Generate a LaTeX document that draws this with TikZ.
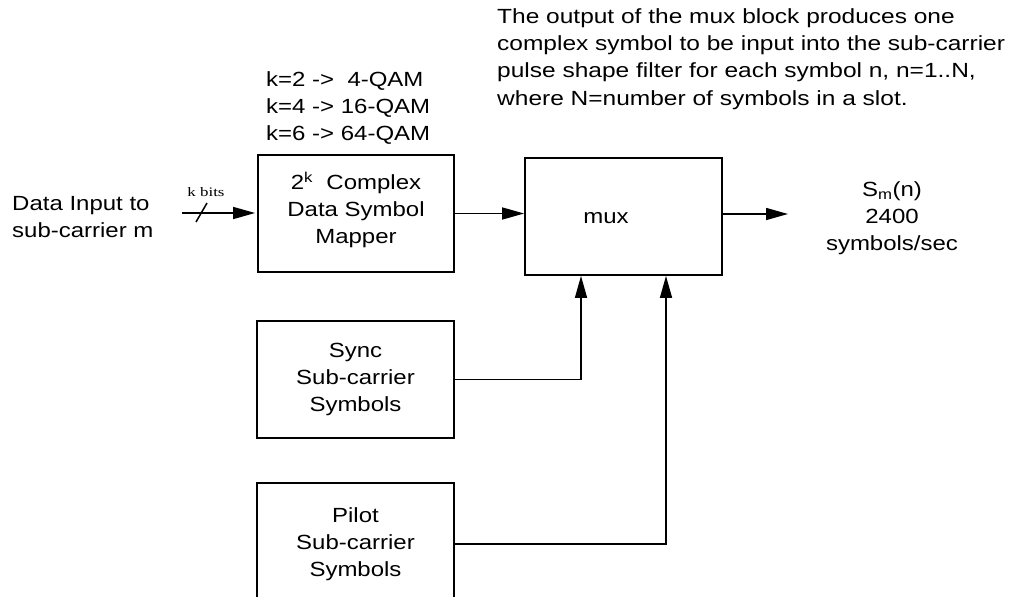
\documentclass[tikz,border=0pt]{standalone}
\usepackage{fontspec}
\setmainfont{Liberation Sans}[FakeStretch=1.17]
\newfontfamily\notefont{Liberation Sans}[FakeStretch=1.195]
\newfontfamily\kbfont{Liberation Serif}[FakeStretch=1.3]
\usetikzlibrary{arrows.meta}
\begin{document}
\begin{tikzpicture}[x=1pt,y=-1pt,
  box/.style={draw, line width=1.8pt, inner sep=0pt},
  conn/.style={line width=1.5pt},
  arr/.style={conn, -{Triangle[length=22pt,width=12pt]}},
  txt/.style={font=\fontsize{20.5}{26.8}\selectfont, inner sep=0pt}
]
\useasboundingbox (0,0) rectangle (1012,597);
\clip (0,0) rectangle (1012,597);

% blocks
\node[box, minimum width=196pt, minimum height=117pt] (map) at (356,213.5) {};
\node[txt, align=center] (maptxt) at (356,209.5) {2\textsuperscript{k}\ \ Complex\\Data Symbol\\Mapper};
\node[box, minimum width=197pt, minimum height=117pt] (mux) at (623.5,216.5) {};
\node[txt] (muxtxt) at (606,218) {mux};
\node[box, txt, align=center, minimum width=197pt, minimum height=117pt] (sync) at (355.5,379.5) {Sync\\Sub-carrier\\Symbols};
\node[box, txt, align=center, minimum width=197pt, minimum height=122pt] (pilot) at (355.5,544) {Pilot\\Sub-carrier\\Symbols};

% texts
\node[txt, font=\notefont\fontsize{20.5}{27.3}\selectfont, anchor=west, align=left] (note) at (497,59) {The output of the mux block produces one\\complex symbol to be input into the sub-carrier\\pulse shape filter for each symbol n, n=1..N,\\where N=number of symbols in a slot.};
\node[txt, anchor=west, align=left] (qam) at (266,108) {k=2 ->\ \ 4-QAM\\k=4 -> 16-QAM\\k=6 -> 64-QAM};
\node[txt, anchor=west, align=left] (inlbl) at (12,216.7) {Data Input to\\sub-carrier m};
\node[txt, align=center] (outlbl) at (892,218) {S\textsubscript{m}(n)\\2400\\symbols/sec};
\node[font=\kbfont\fontsize{13}{15}\selectfont, anchor=base, inner sep=0pt] (kb) at (206,196) {k bits};

% connectors
\coordinate (in0) at (182,213);
\draw[arr, shorten >=2pt] (in0) -- (in0 -| map.west);
\draw[conn] (196,222) -- (207,203);
\draw[arr] (map.east) -- (map.east -| mux.west);
\coordinate (out) at (788,214);
\draw[arr] (mux.east |- out) -- (out);
\coordinate (j1) at (581,0);
\coordinate (j2) at (666,0);
\draw[arr] (sync.east) -| (j1 |- mux.south);
\draw[arr] (pilot.east) -| (j2 |- mux.south);
\end{tikzpicture}
\end{document}
